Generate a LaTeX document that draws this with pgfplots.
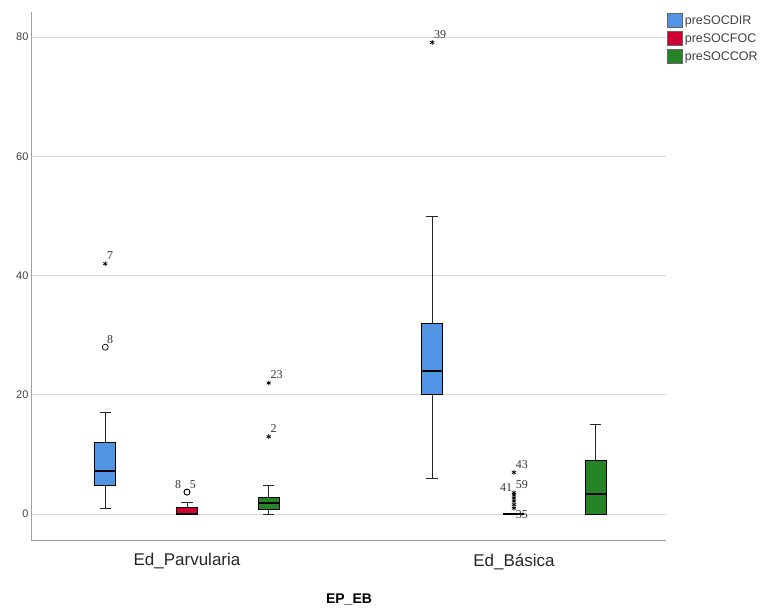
\documentclass[border=0pt]{standalone}
\usepackage{fontspec}
\setmainfont{Liberation Sans}
\newfontfamily\labfont{Liberation Serif}
\usepackage{pgfplots}
\pgfplotsset{compat=1.18}
\definecolor{cblue}{RGB}{82,148,228}
\definecolor{cred}{RGB}{205,0,48}
\definecolor{cgreen}{RGB}{38,132,38}
\definecolor{gridc}{RGB}{215,215,215}
\definecolor{axc}{RGB}{160,160,160}
\pgfplotsset{
  boxs/.style={forget plot, draw=black, line width=0.8pt},
  whs/.style={forget plot, black!85, line width=0.9pt, unbounded coords=jump},
  meds/.style={forget plot, black, line width=2pt},
  outm/.style={forget plot, only marks, draw=black, line width=0.7pt},
  outl/.style={outm, nodes near coords, point meta=explicit symbolic,
    nodes near coords style={anchor=south west, font=\labfont\fontsize{12}{13}\selectfont, inner sep=1.5pt, yshift=2pt, text=black!80}},
}
\begin{document}
\begin{tikzpicture}
\begin{axis}[
  scale only axis, width=634pt, height=529pt,
  xmin=-0.474, xmax=1.465, ymin=-4.5, ymax=84.2,
  axis x line*=bottom, axis y line*=left,
  axis line style={axc, line width=1pt},
  ytick={0,20,40,60,80},
  ymajorgrids, grid style={gridc, line width=0.9pt},
  xtick={0,1}, xticklabels={Ed\_Parvularia, Ed\_Básica},
  major tick length=0pt,
  tick label style={font=\fontsize{11}{13}\selectfont, /pgf/number format/assume math mode=true, text=black!75},
  xticklabel style={font=\fontsize{17}{19}\selectfont, yshift=-9pt, text=black!85},
  xlabel={\textbf{EP\_EB}}, xlabel style={font=\fontsize{14}{16}\selectfont, yshift=-18pt},
  legend style={at={(1.0,1.0)}, anchor=north west, draw=none, fill=none,
    font=\fontsize{12.5}{15}\selectfont, inner sep=1pt, row sep=3.5pt, text=black!75},
  legend cell align=left,
]
% ---- whiskers (lower, upper, caps) ----
\addplot[whs] coordinates {(-0.25,1) (-0.25,4.8) (nan,nan) (-0.25,12) (-0.25,17) (nan,nan) (-0.2675,1) (-0.2325,1) (nan,nan) (-0.2675,17) (-0.2325,17)};
\addplot[whs] coordinates {(0,0) (0,0) (nan,nan) (0,1.2) (0,2) (nan,nan) (-0.0175,0) (0.0175,0) (nan,nan) (-0.0175,2) (0.0175,2)};
\addplot[whs] coordinates {(0.25,0) (0.25,0.8) (nan,nan) (0.25,2.8) (0.25,4.8) (nan,nan) (0.2325,0) (0.2675,0) (nan,nan) (0.2325,4.8) (0.2675,4.8)};
\addplot[whs] coordinates {(0.75,6) (0.75,20) (nan,nan) (0.75,32) (0.75,50) (nan,nan) (0.7325,6) (0.7675,6) (nan,nan) (0.7325,50) (0.7675,50)};
\addplot[whs] coordinates {(0.9825,0) (1.0175,0)};
\addplot[whs] coordinates {(1.25,0) (1.25,0) (nan,nan) (1.25,9) (1.25,15) (nan,nan) (1.2325,0) (1.2675,0) (nan,nan) (1.2325,15) (1.2675,15)};
% ---- boxes ----
\addplot[boxs, fill=cblue] coordinates {(-0.282,4.8) (-0.218,4.8) (-0.218,12) (-0.282,12)} -- cycle;
\addplot[boxs, fill=cred] coordinates {(-0.032,0) (0.032,0) (0.032,1.2) (-0.032,1.2)} -- cycle;
\addplot[boxs, fill=cgreen] coordinates {(0.218,0.8) (0.282,0.8) (0.282,2.8) (0.218,2.8)} -- cycle;
\addplot[boxs, fill=cblue] coordinates {(0.718,20) (0.782,20) (0.782,32) (0.718,32)} -- cycle;
\addplot[boxs, fill=cred] coordinates {(0.968,0) (1.032,0) (1.032,0) (0.968,0)} -- cycle;
\addplot[boxs, fill=cgreen] coordinates {(1.218,0) (1.282,0) (1.282,9) (1.218,9)} -- cycle;
% ---- medians ----
\addplot[meds] coordinates {(-0.282,7.2) (-0.218,7.2)};
\addplot[meds] coordinates {(-0.032,0) (0.032,0)};
\addplot[meds] coordinates {(0.218,1.9) (0.282,1.9)};
\addplot[meds] coordinates {(0.718,24) (0.782,24)};
\addplot[meds] coordinates {(0.968,0) (1.032,0)};
\addplot[meds] coordinates {(1.218,3.4) (1.282,3.4)};
% ---- outliers: circles ----
\addplot[outl, mark=o, mark size=3pt] coordinates {(-0.25,28) [8]};
\addplot[outl, mark=o, mark size=3pt, nodes near coords style={xshift=1pt}] coordinates {(0,3.7) [5]};
\addplot[outl, mark=o, mark size=3pt, nodes near coords style={anchor=south east, xshift=-4pt}] coordinates {(0,3.7) [8]};
% ---- outliers: stars ----
\addplot[outl, mark=asterisk, mark size=2.4pt] coordinates {(-0.25,42) [7] (0.25,22) [23] (0.25,13) [2] (0.75,79.1) [39] (1.0,7) [43] (1.0,3.6) [59]};
\addplot[outl, mark=asterisk, mark size=2.4pt, nodes near coords style={anchor=south east}] coordinates {(1.0,3.2) [41]};
\addplot[outl, mark=asterisk, mark size=2.4pt, nodes near coords style={anchor=north west, yshift=-3pt}] coordinates {(1.0,1) [35]};
\addplot[outm, mark=asterisk, mark size=2.4pt] coordinates {(1.0,1.6) (1.0,2.2) (1.0,2.7)};
% ---- legend ----
\addlegendimage{legend image code/.code={\draw[fill=cblue, draw=black!60, line width=0.6pt] (0pt,-7pt) rectangle (15pt,7pt);}}
\addlegendentry{preSOCDIR}
\addlegendimage{legend image code/.code={\draw[fill=cred, draw=black!60, line width=0.6pt] (0pt,-7pt) rectangle (15pt,7pt);}}
\addlegendentry{preSOCFOC}
\addlegendimage{legend image code/.code={\draw[fill=cgreen, draw=black!60, line width=0.6pt] (0pt,-7pt) rectangle (15pt,7pt);}}
\addlegendentry{preSOCCOR}
\end{axis}
\path ([shift={(-32pt,-71pt)}]current axis.south west) rectangle ([shift={(99pt,12pt)}]current axis.north east);
\end{tikzpicture}
\end{document}
